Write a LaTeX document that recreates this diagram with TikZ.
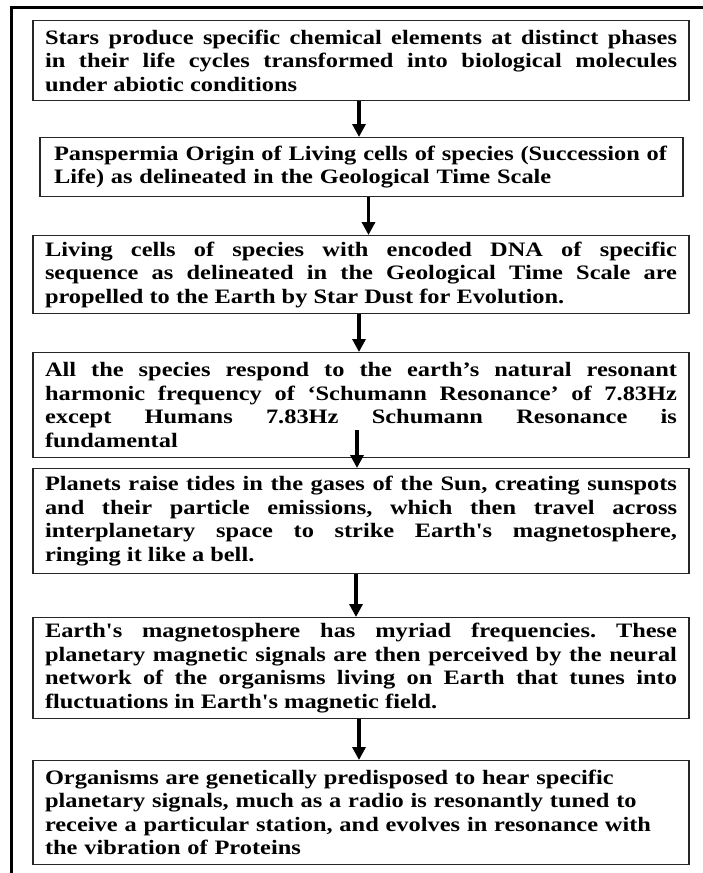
\documentclass[tikz,border=0pt]{standalone}
\usepackage{fontspec}
\setmainfont{Liberation Serif}[FakeStretch=1.19, Ligatures=TeXOff]
\usetikzlibrary{arrows.meta}
\tolerance=10000
\hyphenpenalty=10000
\frenchspacing

\tikzset{
  stage/.style={draw=black!85, line width=1.2pt, anchor=north, inner xsep=12pt, inner ysep=4pt,
    text width=632pt, align=justify, font=\fontsize{20.5}{23.5}\selectfont\bfseries},
  flow/.style={line width=3.5pt, -{Triangle[width=13pt,length=13pt]}}
}

\begin{document}
\begin{tikzpicture}[x=1pt,y=-1pt]
\useasboundingbox (0,0) rectangle (703,873);
% outer frame, cut at the right and bottom edge
\draw[line width=3.5pt] (11.5,880) -- (11.5,7.5) -- (710,7.5);

\node[stage, minimum height=80pt] (stars) at (361,20) {Stars produce specific chemical elements at distinct phases\linebreak
in their life cycles transformed into biological molecules\linebreak
under abiotic conditions};
\node[stage, minimum height=59pt, text width=615pt, inner xsep=14pt, align=left] (origin) at (361.5,137) {Panspermia Origin of Living cells of species (Succession of\\
Life) as delineated in the Geological Time Scale};
\node[stage, minimum height=78pt] (cells) at (361,235) {Living cells of species with encoded DNA of specific\linebreak
sequence as delineated in the Geological Time Scale are\linebreak
propelled to the Earth by Star Dust for Evolution.};
\node[stage, minimum height=105pt] (species) at (361,352) {All the species respond to the earth’s natural resonant\linebreak
harmonic frequency of ‘Schumann Resonance’ of 7.83Hz\linebreak
except Humans 7.83Hz Schumann Resonance is\linebreak
fundamental};
\node[stage, minimum height=105pt] (sun) at (361,468) {Planets raise tides in the gases of the Sun, creating sunspots\linebreak
and their particle emissions, which then travel across\linebreak
interplanetary space to strike Earth's magnetosphere,\linebreak
ringing it like a bell.};
\node[stage, minimum height=101pt] (magneto) at (361,617) {Earth's magnetosphere has myriad frequencies. These\linebreak
planetary magnetic signals are then perceived by the neural\linebreak
network of the organisms living on Earth that tunes into\linebreak
fluctuations in Earth's magnetic field.};
\node[stage, minimum height=104pt, align=left] (tuned) at (361,760) {Organisms are genetically predisposed to hear specific\\
planetary signals, much as a radio is resonantly tuned to\\
receive a particular station, and evolves in resonance with\\
the vibration of Proteins};

% connectors
\foreach \a/\b/\dx in {stars/origin/-2, origin/cells/7, cells/species/-2, sun/magneto/-5, magneto/tuned/-2}
  \draw[flow] ([xshift=\dx pt]\a.south) -- ([xshift=\dx pt]\a.south |- \b.north);
\coordinate (hz) at (357,430);
\draw[flow] (hz) -- (hz |- sun.north);
\end{tikzpicture}
\end{document}
